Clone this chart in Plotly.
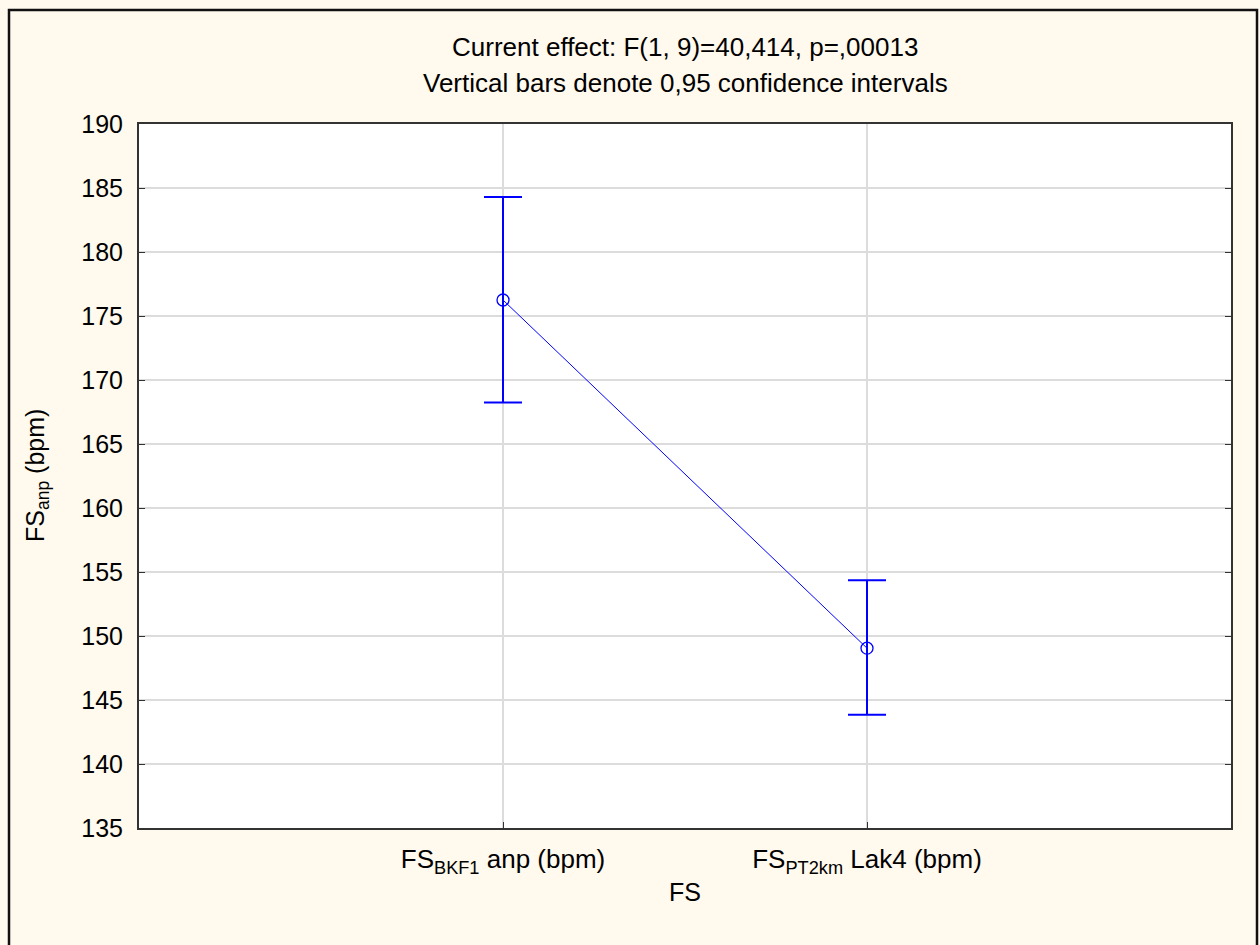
import plotly.graph_objects as go

categories = ["FS<sub>BKF1</sub> anp (bpm)", "FS<sub>PT2km</sub> Lak4 (bpm)"]
means = [176.25, 149.05]
upper = [184.3, 154.35]
lower = [168.25, 143.85]
y_ticks = [135, 140, 145, 150, 155, 160, 165, 170, 175, 180, 185, 190]

xpos = list(range(len(categories)))
err_plus = [u - m for u, m in zip(upper, means)]
err_minus = [m - l for m, l in zip(means, lower)]

font_family = "Liberation Sans, Arial, sans-serif"
blue = "#0000FF"

fig = go.Figure()
fig.add_trace(go.Scatter(
    x=xpos, y=means, mode="lines+markers",
    line=dict(color=blue, width=1),
    marker=dict(symbol="circle-open", size=12, color=blue, line=dict(width=1.3, color=blue)),
    error_y=dict(type="data", symmetric=False, array=err_plus, arrayminus=err_minus,
                 color=blue, thickness=2, width=19),
    showlegend=False,
))

fig.update_layout(
    width=1260, height=945,
    margin=dict(l=139, r=29, t=124, b=117),
    paper_bgcolor="#FFF9EE",
    plot_bgcolor="#FFFFFF",
    font=dict(family=font_family, size=25, color="#000000"),
    xaxis=dict(
        range=[-1, 2], tickvals=xpos, ticktext=categories,
        showgrid=True, gridcolor="#DCDCDC", gridwidth=1.5,
        showline=True, linecolor="#333333", linewidth=2, mirror=True,
        ticks="inside", ticklen=6, tickcolor="#333333",
        tickfont=dict(size=26), zeroline=False, ticklabelstandoff=7,
    ),
    yaxis=dict(
        range=[135, 190], tickvals=y_ticks,
        showgrid=True, gridcolor="#DCDCDC", gridwidth=1.5,
        showline=True, linecolor="#333333", linewidth=2, mirror="ticks",
        ticks="inside", ticklen=6, tickcolor="#333333",
        tickfont=dict(size=25), zeroline=False, ticklabelstandoff=9,
    ),
    annotations=[
        dict(text="Current effect: F(1, 9)=40,414, p=,00013", xref="paper", yref="paper",
             x=0.5, y=1 + (124 - 47) / 704, xanchor="center", yanchor="middle",
             showarrow=False, font=dict(size=26)),
        dict(text="Vertical bars denote 0,95 confidence intervals", xref="paper", yref="paper",
             x=0.5, y=1 + (124 - 83) / 704, xanchor="center", yanchor="middle",
             showarrow=False, font=dict(size=26)),
        dict(text="FS", xref="paper", yref="paper",
             x=0.5, y=-(892 - 828) / 704, xanchor="center", yanchor="middle",
             showarrow=False, font=dict(size=25)),
        dict(text="FS<sub>anp</sub> (bpm)", xref="paper", yref="paper",
             x=(37 - 139) / 1092, y=0.5, xanchor="center", yanchor="middle",
             textangle=-90, showarrow=False, font=dict(size=25)),
    ],
    shapes=[
        dict(type="rect", xref="paper", yref="paper",
             x0=(9 - 139) / 1092, x1=(1257 - 139) / 1092,
             y0=-(960 - 828) / 704, y1=1 + (124 - 10) / 704,
             line=dict(color="#111111", width=2.5), layer="below"),
    ],
)

fig.write_html("out.html", config={"displayModeBar": False},
               post_script="document.body.style.margin='0';document.body.style.padding='0';document.body.style.overflow='hidden';")
